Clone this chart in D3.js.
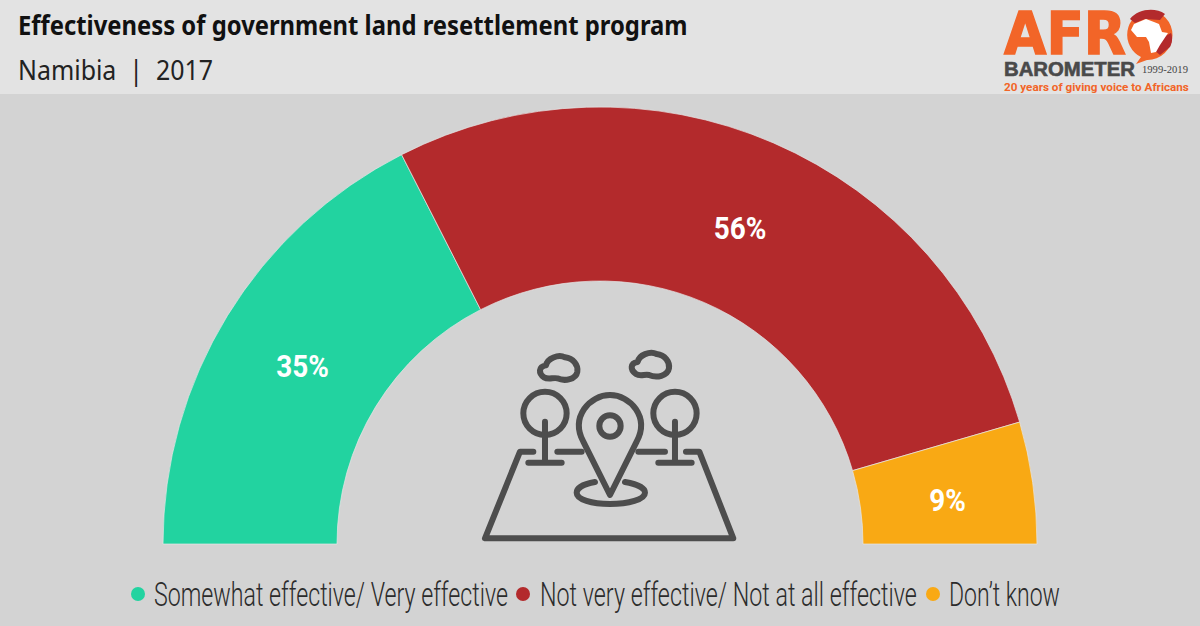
<!DOCTYPE html>
<html><head><meta charset="utf-8">
<script src="https://cdn.jsdelivr.net/npm/d3@7"></script>
<style>html,body{margin:0;padding:0;background:#d3d3d3}svg{display:block}</style>
</head><body><svg id="c" width="1200" height="626"></svg>
<script>
const titleText = "Effectiveness of government land resettlement program";
const subtitleText = "Namibia  |  2017";
const categories = ["Somewhat effective/ Very effective", "Not very effective/ Not at all effective", "Don’t know"];
const seriesValues = [35, 56, 9];
const colors = ["#22d3a0", "#b32a2c", "#f9a914"];

const svg = d3.select("#c");
svg.append("rect").attr("width",1200).attr("height",626).attr("fill","#d3d3d3");
svg.append("rect").attr("width",1200).attr("height",94).attr("fill","#e3e3e3");

function fitted(sel, x, y, w){ // real text squeezed to a measured width
  const n=sel.node().getComputedTextLength();
  return sel.attr("transform",`translate(${x},${y}) scale(${w/n},1)`);
}
fitted(svg.append("text").text(titleText).attr("font-family","'Noto Sans'").attr("font-weight",700)
  .attr("font-size",27).attr("fill","#111"),18,35,670);
fitted(svg.append("text").text(subtitleText).style("white-space","pre").attr("font-family","'Noto Sans'")
  .attr("font-size",28).attr("fill","#222"),18,80,195);

// gauge
const cx=600, cy=544, outerR=437, innerR=263;
const pie=d3.pie().sort(null).startAngle(-Math.PI/2).endAngle(Math.PI/2);
const arc=d3.arc().innerRadius(innerR).outerRadius(outerR);
const g=svg.append("g").attr("transform",`translate(${cx},${cy})`);
const arcs=pie(seriesValues);
g.selectAll("path").data(arcs).join("path").attr("d",arc)
  .attr("fill",(d,i)=>colors[i]).attr("stroke","#e6e6e6").attr("stroke-width",0.7);
g.selectAll("text").data(arcs).join("text")
  .attr("transform",d=>{const c=arc.centroid(d);return `translate(${c[0]+1},${c[1]+16}) scale(0.9,1)`;})
  .attr("text-anchor","middle").attr("font-family","Roboto").attr("font-weight",700)
  .attr("font-size",31).attr("fill","#fff").text(d=>d.value+"%");

// icon
const ic=svg.append("g").attr("transform","translate(470,340) scale(0.3333)")
  .attr("fill","none").attr("stroke","#4d4d4d").attr("stroke-width",18)
  .attr("stroke-linecap","round").attr("stroke-linejoin","round");
ic.append("path").attr("d","M190,335H150L45,595H790L688,335H648");
ic.append("path").attr("d","M262,335H335M505,335H585");
[225,615].forEach(x=>{
  ic.append("circle").attr("cx",x).attr("cy",220).attr("r",65);
  ic.append("path").attr("d",`M${x},245V368M${x-50},368H${x+50}`);
});
ic.append("path").attr("d","M420,465L340,305C300,230 360,165 420,165C480,165 540,230 500,305Z");
ic.append("circle").attr("cx",420).attr("cy",258).attr("r",32);
ic.append("path").attr("d","M375,426C340,432 320,444 320,458C320,478 365,492 420,492C475,492 525,478 525,458C525,444 500,432 465,426");
ic.append("path").attr("d","M222,112C205,100 205,80 228,76C232,55 265,42 285,52C310,55 325,75 322,95C318,118 285,125 262,115C250,112 235,120 222,112Z");
ic.append("path").attr("d","M498,102C480,90 480,70 503,66C507,45 540,32 560,42C585,45 600,65 597,85C593,108 560,115 537,105C525,102 510,110 498,102Z");

// legend
const legendLayout=[{dot:138,x:154,w:354},{dot:523,x:540,w:377},{dot:933,x:949,w:111}];
const lg=svg.append("g");
lg.selectAll("circle").data(categories).join("circle")
  .attr("cx",(d,i)=>legendLayout[i].dot).attr("cy",594).attr("r",7).attr("fill",(d,i)=>colors[i]);
lg.selectAll("text").data(categories).join("text").text(d=>d)
  .attr("font-family","Roboto").attr("font-weight",300).attr("font-size",33).attr("fill","#2b2b2b")
  .each(function(d,i){fitted(d3.select(this),legendLayout[i].x,606,legendLayout[i].w);});

// logo
const logo=svg.append("g");
const orange="#f26528";
fitted(logo.append("text").text("AFR").attr("font-family","'DejaVu Sans'").attr("font-weight",700)
  .attr("font-size",58).attr("fill",orange).attr("stroke",orange).attr("stroke-width",1.5),1004,54,122);
logo.append("path").attr("fill",orange)
  .attr("d","M1148,10A25,25 0 1 1 1147,60L1136,64L1141,57A25,25 0 0 1 1148,10Z");
logo.append("path").attr("fill","#b32a2c").attr("d","M1130,19C1138,9 1155,7 1165,14L1160,20L1145,19L1135,23Z");
logo.append("path").attr("fill","#b32a2c").attr("d","M1171,33C1173,38 1172,43 1170,47L1160,55L1154,50L1160,39Z");
logo.append("path").attr("fill","#fff")
  .attr("d","M1134,24L1146,19L1154,22L1159,24L1162,32L1168,33L1162,42L1160,45L1156,52L1151,53L1149,42L1146,37L1137,37L1131,30Z");
fitted(logo.append("text").text("BAROMETER").attr("font-family","'Liberation Sans'").attr("font-weight",700)
  .attr("font-size",20).attr("fill","#4a4a4a").attr("stroke","#4a4a4a").attr("stroke-width",0.6),1004,76,131);
fitted(logo.append("text").text("1999-2019").attr("font-family","'Liberation Serif'")
  .attr("font-size",9.5).attr("fill","#444"),1142,73,46);
fitted(logo.append("text").text("20 years of giving voice to Africans").attr("font-family","'Roboto'").attr("font-weight",700)
  .attr("font-size",11).attr("fill",orange),1004,90.5,185);
</script></body></html>
